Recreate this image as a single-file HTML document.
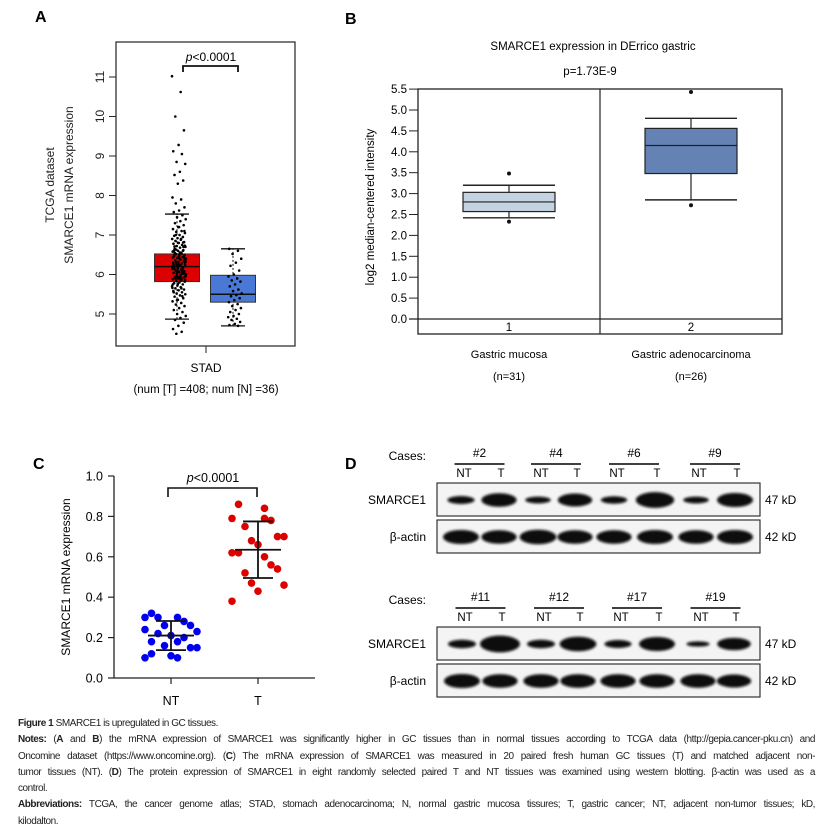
<!DOCTYPE html>
<html><head><meta charset="utf-8">
<style>
html,body{margin:0;padding:0;background:#fff;}
body{width:827px;height:831px;position:relative;overflow:hidden;font-family:"Liberation Sans",sans-serif;}
svg{position:absolute;left:0;top:0;}
svg text{font-family:"Liberation Sans",sans-serif;}
#caption{position:absolute;left:18px;top:716px;width:797px;font-size:10px;line-height:16.3px;color:#222;font-family:"Liberation Sans Narrow","Liberation Sans",sans-serif;letter-spacing:-0.45px;}
#caption .j{text-align:justify;text-align-last:justify;white-space:nowrap;}
#caption b{font-weight:bold;}
</style></head>
<body>
<svg id="fig" width="827" height="712" viewBox="0 0 827 712">
  <g id="pA"></g>
  <g id="pB"></g>
  <g id="pC"></g>
  <g id="pD"></g>
</svg>
<div id="caption">
<div><b>Figure 1</b> SMARCE1 is upregulated in GC tissues.</div>
<div class="j"><b>Notes:</b> (<b>A</b> and <b>B</b>) the mRNA expression of SMARCE1 was significantly higher in GC tissues than in normal tissues according to TCGA data (http://gepia.cancer-pku.cn) and</div>
<div class="j">Oncomine dataset (https://www.oncomine.org). (<b>C</b>) The mRNA expression of SMARCE1 was measured in 20 paired fresh human GC tissues (T) and matched adjacent non-</div>
<div class="j">tumor tissues (NT). (<b>D</b>) The protein expression of SMARCE1 in eight randomly selected paired T and NT tissues was examined using western blotting. β-actin was used as a</div>
<div>control.</div>
<div class="j"><b>Abbreviations:</b> TCGA, the cancer genome atlas; STAD, stomach adenocarcinoma; N, normal gastric mucosa tissures; T, gastric cancer; NT, adjacent non-tumor tissues; kD,</div>
<div>kilodalton.</div>
</div>
<script>
// ---------- Panel A data ----------
const aTicks = [5,6,7,8,9,10,11];
const aBoxT = {q1:5.82, med:6.2, q3:6.52, lo:4.87, hi:7.53};
const aBoxN = {q1:5.3, med:5.5, q3:5.98, lo:4.7, hi:6.65};
const aPtsT = [11.02,10.62,10.0,9.65,9.28,9.12,9.05,8.85,8.8,8.6,8.52,8.38,8.3,7.95,7.9,7.8,7.7,7.62,7.58,7.5,7.45,7.4,7.35,7.3,7.25,7.2,7.15,7.1,7.08,7.05,7.0,6.98,6.95,6.92,6.9,6.88,6.85,6.82,6.8,6.78,6.75,6.72,6.7,6.68,6.65,6.62,6.6,6.58,6.55,6.52,6.5,6.48,6.46,6.44,6.42,6.4,6.38,6.36,6.34,6.32,6.3,6.28,6.26,6.24,6.22,6.2,6.18,6.16,6.14,6.12,6.1,6.08,6.06,6.04,6.02,6.0,5.98,5.96,5.94,5.92,5.9,5.88,5.86,5.84,5.82,5.8,5.78,5.75,5.72,5.7,5.68,5.65,5.62,5.6,5.58,5.55,5.52,5.5,5.47,5.44,5.4,5.36,5.32,5.28,5.24,5.2,5.15,5.1,5.05,5.0,4.95,4.9,4.85,4.78,4.7,4.62,4.55,4.5,6.3,6.4,6.5,6.6,6.1,6.2,6.0,5.9,6.35,6.45,6.25,6.15,6.05,5.95,5.85,6.55,6.7,6.8,5.75,5.65,6.31,6.41,6.51,6.61,6.11,6.21,6.01,5.91,6.36,6.46,6.26,6.16,6.06,5.96,5.86,6.56,6.71,6.81,5.76,5.66,6.9,7.0,7.1,7.2,5.55,5.45,5.35,6.33,6.23,6.13,6.03,5.93,6.43,6.53,6.63,6.73];
const aPtsN = [6.65,6.6,6.52,6.4,6.3,6.22,6.1,6.0,5.95,5.9,5.85,5.82,5.75,5.7,5.62,5.58,5.52,5.48,5.45,5.4,5.35,5.3,5.25,5.2,5.15,5.1,5.05,5.0,4.95,4.92,4.88,4.85,4.8,4.75,4.72,4.7];
// ---------- Panel B data ----------
const bTicks = [0,0.5,1,1.5,2,2.5,3,3.5,4,4.5,5,5.5];
const bCats = ["1","2"];
const bNames = ["Gastric mucosa","Gastric adenocarcinoma"];
const bNs = ["(n=31)","(n=26)"];
const bQ1 = [2.57,3.48];
const bMed = [2.8,4.15];
const bQ3 = [3.03,4.56];
const bLo = [2.42,2.85];
const bHi = [3.2,4.8];
const bOutHi = [3.48,5.43];
const bOutLo = [2.33,2.72];
// ---------- Panel C data ----------
const cTicks = [0,0.2,0.4,0.6,0.8,1.0];
const cCats = ["NT","T"];
const cNT = [0.30,0.30,0.32,0.28,0.30,0.26,0.26,0.23,0.21,0.24,0.18,0.18,0.20,0.22,0.15,0.16,0.15,0.11,0.10,0.10,0.12];
const cT = [0.79,0.84,0.86,0.78,0.75,0.70,0.68,0.70,0.66,0.62,0.60,0.62,0.56,0.52,0.54,0.47,0.46,0.43,0.38,0.79];
const cMean = [0.21,0.635];
const cSD = [0.072,0.14];
// ---------- Panel D data ----------
const dCasesTop = ["#2","#4","#6","#9"];
const dCasesBot = ["#11","#12","#17","#19"];
const dSmTop = [0.45,0.95,0.35,0.9,0.4,1.15,0.35,1.0];
const dSmBot = [0.5,1.25,0.5,1.05,0.45,1.0,0.2,0.85];
const dActTop = [1,0.95,1.05,0.95,0.95,1,0.95,1];
const dActBot = [1,0.95,0.95,0.95,0.95,0.95,0.95,0.9];

const NS="http://www.w3.org/2000/svg";
function mk(parent,tag,attrs,txt){const e=document.createElementNS(NS,tag);for(const k in attrs)e.setAttribute(k,attrs[k]);if(txt!==undefined)e.textContent=txt;parent.appendChild(e);return e;}
function jit(i){return ((i*0.6180339887)%1)-0.5;}

// ===== Panel A =====
(function(){
const g=document.getElementById('pA');
const yA=v=>314-(v-5)*39.5;
let t=mk(g,'text',{x:35,y:22,'font-size':16,'font-weight':'bold'},'A');

let r=mk(g,'rect',{x:116,y:42,width:179,height:304,fill:'none',stroke:'#222','stroke-width':1.2});

aTicks.forEach(v=>{
  const y=yA(v);
  let l=mk(g,'line',{x1:109,x2:116,y1:y,y2:y,stroke:'#222'});
  
  let tx=mk(g,'text',{x:0,y:0,'font-size':12,'text-anchor':'middle',transform:`translate(104,${y}) rotate(-90)`,fill:'#222'},String(v));
  
});
let yt=mk(g,'text',{'font-size':12,'text-anchor':'middle',transform:'translate(54,185) rotate(-90)',fill:'#222'},'TCGA dataset');

let yt2=mk(g,'text',{'font-size':12,'text-anchor':'middle',transform:'translate(73,185) rotate(-90)',fill:'#222'},'SMARCE1 mRNA expression');

function box(b,cx,fill,name){
  const w=45;
  let wl=mk(g,'line',{x1:cx,x2:cx,y1:yA(b.lo),y2:yA(b.hi),stroke:'#111','stroke-dasharray':'2,2'});
  
  let bx=mk(g,'rect',{x:cx-w/2,y:yA(b.q3),width:w,height:yA(b.q1)-yA(b.q3),fill:fill,stroke:'#333'});
  
  let md=mk(g,'line',{x1:cx-w/2,x2:cx+w/2,y1:yA(b.med),y2:yA(b.med),stroke:'#111','stroke-width':1.5});
  
  [b.lo,b.hi].forEach(v=>{let c=mk(g,'line',{x1:cx-12,x2:cx+12,y1:yA(v),y2:yA(v),stroke:'#111','stroke-width':1.3});
    });
}
box(aBoxT,177,'#dd0000','box-tumor');
box(aBoxN,233,'#4a78d6','box-normal');
aPtsT.forEach((v,i)=>{const dx=jit(i)*14;
  let c=mk(g,'circle',{cx:179+dx,cy:yA(v),r:1.3,fill:'#000'});
  });
aPtsN.forEach((v,i)=>{const dx=jit(i+5)*14;
  let c=mk(g,'circle',{cx:235+dx,cy:yA(v),r:1.3,fill:'#000'});
  });
let br=mk(g,'path',{d:'M183,72 V66 H238 V72',fill:'none',stroke:'#111','stroke-width':1.8});

let pt=mk(g,'text',{x:211,y:61,'font-size':12,'text-anchor':'middle'});

pt.innerHTML='<tspan font-style="italic">p</tspan>&lt;0.0001';
let xt=mk(g,'line',{x1:206,x2:206,y1:346,y2:353,stroke:'#222'});

let s=mk(g,'text',{x:206,y:372,'font-size':12,'text-anchor':'middle'},'STAD');

let s2=mk(g,'text',{x:206,y:393,'font-size':11.5,'text-anchor':'middle'},'(num [T] =408; num [N] =36)');

})();

// ===== Panel B =====
(function(){
const g=document.getElementById('pB');
const yB=v=>319-v*41.8;
const xC=[509,691];
let t=mk(g,'text',{x:345,y:24,'font-size':16,'font-weight':'bold'},'B');

let ti=mk(g,'text',{x:593,y:50,'font-size':11.5,'text-anchor':'middle'},'SMARCE1 expression in DErrico gastric');

let pv=mk(g,'text',{x:590,y:75,'font-size':11.5,'text-anchor':'middle'},'p=1.73E-9');

let fr=mk(g,'rect',{x:418,y:89,width:364,height:245,fill:'none',stroke:'#222','stroke-width':1.3});

let dv=mk(g,'line',{x1:600,x2:600,y1:89,y2:334,stroke:'#222','stroke-width':1.2});

let zl=mk(g,'line',{x1:409,x2:782,y1:yB(0),y2:yB(0),stroke:'#222','stroke-width':1.2});

bTicks.forEach(v=>{const y=yB(v);
  let l=mk(g,'line',{x1:409,x2:418,y1:y,y2:y,stroke:'#222'});
  
  let tx=mk(g,'text',{x:407,y:y+4,'font-size':11.5,'text-anchor':'end'},v.toFixed(1));
  });
let yt=mk(g,'text',{'font-size':11.5,'text-anchor':'middle',transform:'translate(374,207) rotate(-90)'},'log2 median-centered intensity');

const fills=['#c4d2e2','#6582b4'];
bCats.forEach((c,i)=>{
  const cx=xC[i],w=92;
  let ct=mk(g,'text',{x:cx,y:331,'font-size':11.5,'text-anchor':'middle'},c);
  
  let nm=mk(g,'text',{x:cx,y:358,'font-size':11,'text-anchor':'middle'},bNames[i]);
  
  let nn=mk(g,'text',{x:cx,y:380,'font-size':11,'text-anchor':'middle'},bNs[i]);
  
  let wl=mk(g,'line',{x1:cx,x2:cx,y1:yB(bLo[i]),y2:yB(bHi[i]),stroke:'#222','stroke-width':1.2});
  
  [bLo[i],bHi[i]].forEach(v=>{let cp=mk(g,'line',{x1:cx-w/2,x2:cx+w/2,y1:yB(v),y2:yB(v),stroke:'#222','stroke-width':1.4});
    });
  let bx=mk(g,'rect',{x:cx-w/2,y:yB(bQ3[i]),width:w,height:yB(bQ1[i])-yB(bQ3[i]),fill:fills[i],stroke:'#222','stroke-width':1.2});
  
  let md=mk(g,'line',{x1:cx-w/2,x2:cx+w/2,y1:yB(bMed[i]),y2:yB(bMed[i]),stroke:'#222','stroke-width':1.2});
  
  [bOutHi[i],bOutLo[i]].forEach(v=>{let o=mk(g,'circle',{cx:cx,cy:yB(v),r:2,fill:'#111'});
    });
});
})();

// ===== Panel C =====
(function(){
const g=document.getElementById('pC');
const yC=v=>678-v*202;
const xC=[171,258];
let t=mk(g,'text',{x:33,y:469,'font-size':16,'font-weight':'bold'},'C');

let ya=mk(g,'line',{x1:114,x2:114,y1:yC(1),y2:yC(0),stroke:'#222','stroke-width':1.3});

let xa=mk(g,'line',{x1:114,x2:315,y1:yC(0),y2:yC(0),stroke:'#222','stroke-width':1.3});

cTicks.forEach(v=>{const y=yC(v);
  let l=mk(g,'line',{x1:108,x2:114,y1:y,y2:y,stroke:'#222','stroke-width':1.2});
  
  let tx=mk(g,'text',{x:103,y:y+4.5,'font-size':12.5,'text-anchor':'end'},v.toFixed(1));
  });
let yt=mk(g,'text',{'font-size':12,'text-anchor':'middle',transform:'translate(70,577) rotate(-90)'},'SMARCE1 mRNA expression');

const cols=['#0000ee','#dd0000'];
[cNT,cT].forEach((arr,k)=>{
  const cx=xC[k];
  let tk=mk(g,'line',{x1:cx,x2:cx,y1:yC(0),y2:yC(0)+6,stroke:'#222','stroke-width':1.2});
  
  let lb=mk(g,'text',{x:cx,y:705,'font-size':12.5,'text-anchor':'middle'},cCats[k]);
  
  arr.forEach((v,i)=>{const dx=(((i*5)%9)-4)*6.5;
    let c=mk(g,'circle',{cx:cx+dx,cy:yC(v),r:3.8,fill:cols[k]});
    });
  const m=cMean[k],s=cSD[k];
  let ml=mk(g,'line',{x1:cx-23,x2:cx+23,y1:yC(m),y2:yC(m),stroke:'#111','stroke-width':1.8});
  
  let sl=mk(g,'line',{x1:cx,x2:cx,y1:yC(m+s),y2:yC(m-s),stroke:'#111','stroke-width':1.8});
  
  [m+s,m-s].forEach(v=>{let c=mk(g,'line',{x1:cx-15,x2:cx+15,y1:yC(v),y2:yC(v),stroke:'#111','stroke-width':1.8});
    });
});
let br=mk(g,'path',{d:'M168,497 V488 H257 V497',fill:'none',stroke:'#111','stroke-width':1.6});

let pt=mk(g,'text',{x:213,y:482,'font-size':12.5,'text-anchor':'middle'});

pt.innerHTML='<tspan font-style="italic">p</tspan>&lt;0.0001';
})();

// ===== Panel D =====
(function(){
const g=document.getElementById('pD');
const defs=mk(g,'defs',{});
const f=mk(defs,'filter',{id:'bl',x:'-30%',y:'-100%',width:'160%',height:'300%'});
mk(f,'feGaussianBlur',{stdDeviation:'1.4'});
let t=mk(g,'text',{x:345,y:469,'font-size':16,'font-weight':'bold'},'D');

const lanesTop=[460,499,537,575,613,655,695,735];
const lanesBot=[461,500,540,578,617,657,697,734];
function block(cases,lanes,y0,sm,act,tag){
  let c=mk(g,'text',{x:426,y:y0+5,'font-size':12,'text-anchor':'end'},'Cases:');
  
  cases.forEach((cs,i)=>{
    const a=lanes[2*i],b=lanes[2*i+1],mid=(a+b)/2;
    let ct=mk(g,'text',{x:mid,y:y0+2,'font-size':12,'text-anchor':'middle'},cs);
    
    let bar=mk(g,'line',{x1:mid-25,x2:mid+25,y1:y0+9,y2:y0+9,stroke:'#000','stroke-width':1.6});
    
    let n=mk(g,'text',{x:a+4,y:y0+22,'font-size':11.5,'text-anchor':'middle'},'NT');
    
    let tt=mk(g,'text',{x:b+2,y:y0+22,'font-size':11.5,'text-anchor':'middle'},'T');
    
  });
  const b1=y0+28,b2=y0+65;
  [[b1,sm,'SMARCE1','47 kD'],[b2,act,'β-actin','42 kD']].forEach(([yy,vals,lab,kd])=>{
    let r=mk(g,'rect',{x:437,y:yy,width:323,height:33,fill:'#f4f4f4',stroke:'#333','stroke-width':1.2});
    
    let l=mk(g,'text',{x:426,y:yy+21,'font-size':12,'text-anchor':'end'},lab);
    
    let k=mk(g,'text',{x:765,y:yy+21,'font-size':12},kd);
    
    vals.forEach((v,i)=>{
      let e=mk(g,'ellipse',{cx:lanes[i]+(i%2?0:1),cy:yy+17,rx:10+v*8,ry:1.5+v*5.5,fill:'#080808',filter:'url(#bl)'});
      
    });
  });
}
block(dCasesTop,lanesTop,455,dSmTop,dActTop,'top');
block(dCasesBot,lanesBot,599,dSmBot,dActBot,'bottom');
})();
</script>
</body></html>
